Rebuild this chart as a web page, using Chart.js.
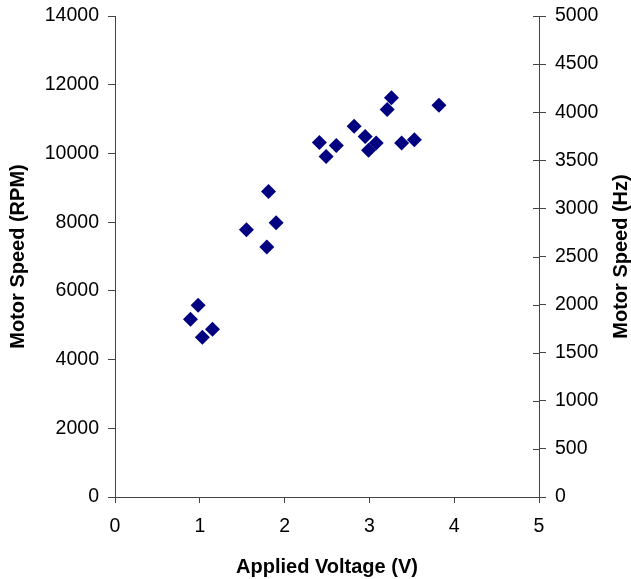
<!DOCTYPE html>
<html>
<head>
<meta charset="utf-8">
<script src="https://cdn.jsdelivr.net/npm/chart.js@4/dist/chart.umd.min.js"></script>
<style>
    html, body { margin: 0; padding: 0; background: #fff; }
    #wrap { width: 631px; height: 579px; }
</style>
</head>
<body>
<div id="wrap"><canvas id="motorChart" width="631" height="579"></canvas></div>
<script>
// Readings taken off the plot
const voltage = [0.89, 0.98, 1.03, 1.15, 1.55, 1.79, 1.81, 1.90, 2.41, 2.49, 2.61, 2.82, 2.95, 2.99, 3.08, 3.21, 3.26, 3.38, 3.53, 3.82];
const rpm = [5170, 5580, 4650, 4880, 7780, 7280, 8890, 7980, 10320, 9910, 10230, 10790, 10490, 10090, 10300, 11280, 11620, 10300, 10400, 11400];

const xTicks = [0, 1, 2, 3, 4, 5];
const rightTitle = 'Motor Speed (Hz)';
const axisColor = '#444';
const fontFamily = '"Liberation Sans", Arial, sans-serif';
const tickFont = { family: fontFamily, size: 19.5 };
const titleFont = { family: fontFamily, size: 20, weight: 'bold' };

// right axis: ticks cross the axis line and the title reads bottom-to-top
const rightAxisExtras = {
    id: 'rightAxisExtras',
    afterDraw(chart) {
        const scale = chart.scales.y1;
        const area = chart.chartArea;
        const ctx = chart.ctx;
        ctx.save();
        ctx.strokeStyle = axisColor;
        ctx.lineWidth = 1;
        scale.ticks.forEach(t => {
            const y = Math.round(scale.getPixelForValue(t.value)) + 0.5;
            ctx.beginPath();
            ctx.moveTo(scale.left - 6, y);
            ctx.lineTo(scale.left, y);
            ctx.stroke();
        });
        ctx.translate(scale.right - 10, (area.top + area.bottom) / 2);
        ctx.rotate(-Math.PI / 2);
        ctx.fillStyle = '#000';
        ctx.font = 'bold 20px ' + fontFamily;
        ctx.textAlign = 'center';
        ctx.textBaseline = 'middle';
        ctx.fillText(rightTitle, 0, 0);
        ctx.restore();
    }
};

function fixWidth(w) {
    return s => { s.width = w; s.paddingTop = 0; s.paddingBottom = 0; };
}

const ctx = document.getElementById('motorChart').getContext('2d');
const chart = new Chart(ctx, {
    type: 'scatter',
    data: {
        datasets: [{
            label: 'Motor Speed',
            data: voltage.map((v, i) => ({ x: v, y: rpm[i] })),
            pointStyle: 'rectRot',
            pointRadius: 7.5,
            pointHoverRadius: 7.5,
            backgroundColor: '#000080',
            borderColor: '#000080',
            borderWidth: 0,
            yAxisID: 'y'
        }]
    },
    options: {
        responsive: false,
        animation: false,
        layout: { padding: { top: 16, left: 0, right: 0, bottom: 0 } },
        plugins: {
            legend: { display: false },
            tooltip: { enabled: false }
        },
        scales: {
            x: {
                type: 'linear',
                min: 0,
                max: 5,
                afterBuildTicks: s => { s.ticks = xTicks.map(v => ({ value: v })); },
                afterFit: s => { s.height = 82; s.paddingLeft = 0; s.paddingRight = 0; },
                border: { color: axisColor, width: 1 },
                grid: { drawOnChartArea: false, tickLength: 6, color: axisColor },
                ticks: { color: '#000', font: tickFont, padding: 12 },
                title: {
                    display: true,
                    text: 'Applied Voltage (V)',
                    color: '#000',
                    font: titleFont,
                    padding: { top: 0, bottom: 0 }
                }
            },
            y: {
                position: 'left',
                min: 0,
                max: 14000,
                afterFit: fixWidth(115),
                border: { color: axisColor, width: 1 },
                grid: { drawOnChartArea: false, tickLength: 7, color: axisColor },
                ticks: { stepSize: 2000, color: '#000', font: tickFont, padding: 9, callback: v => String(v) },
                title: {
                    display: true,
                    text: 'Motor Speed (RPM)',
                    color: '#000',
                    font: titleFont,
                    padding: { top: 6, bottom: 6 }
                }
            },
            y1: {
                position: 'right',
                min: 0,
                max: 5000,
                afterFit: fixWidth(92),
                border: { color: axisColor, width: 1 },
                grid: { drawOnChartArea: false, tickLength: 7, color: axisColor },
                ticks: { stepSize: 500, color: '#000', font: tickFont, padding: 9, callback: v => String(v) },
                title: { display: false }
            }
        }
    },
    plugins: [rightAxisExtras]
});
</script>
</body>
</html>
